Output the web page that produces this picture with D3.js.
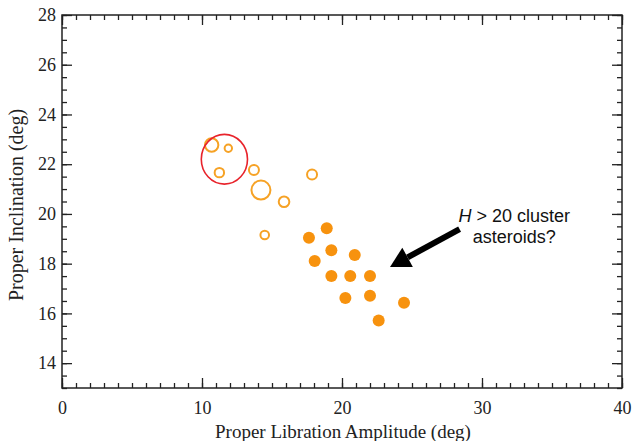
<!DOCTYPE html>
<html>
<head>
<meta charset="utf-8">
<script src="https://cdn.jsdelivr.net/npm/d3@7"></script>
<style>
  body { margin: 0; background: #fff; }
  svg { display: block; }
</style>
</head>
<body>
<div id="chart"></div>
<script>
// open circles: proper libration amplitude, proper inclination, relative size
var openAmp  = [10.69, 11.88, 11.24, 13.71, 14.21, 15.86, 17.86, 14.48];
var openInc  = [22.77, 22.64, 21.66, 21.77, 20.96, 20.49, 21.59, 19.15];
var openSize = [6.7, 3.7, 4.7, 5.0, 9.5, 5.3, 5.0, 4.3];

// filled circles: H > 20 cluster candidates
var fillAmp = [17.64, 18.91, 19.24, 18.05, 20.91, 19.24, 20.59, 22.0, 20.24, 22.0, 24.43, 22.62];
var fillInc = [19.04, 19.42, 18.54, 18.11, 18.35, 17.50, 17.50, 17.50, 16.62, 16.71, 16.43, 15.71];

// red ellipse around the family core: center and half-widths in data units
var ringCenter = [11.6, 22.2];
var ringRadius = [1.65, 1.0];

var xTicks = [0, 10, 20, 30, 40];
var yTicks = [14, 16, 18, 20, 22, 24, 26, 28];

var W = 633, H = 441;
var margin = {top: 15, right: 11, bottom: 53, left: 62};
var width = W - margin.left - margin.right,
    height = H - margin.top - margin.bottom;

var svg = d3.select("#chart").append("svg")
  .attr("width", W)
  .attr("height", H);

var g = svg.append("g")
  .attr("transform", "translate(" + margin.left + "," + margin.top + ")");

var x = d3.scaleLinear().domain([0, 40]).range([0, width]);
var y = d3.scaleLinear().domain([13, 28]).range([height, 0]);
var r = d3.scaleLinear().domain([0, 10]).range([0, 10]);

var serif = "'Liberation Serif', 'Times New Roman', serif";

// axes: ticks pointing inward, on all four sides
function styleAxis(sel) {
  sel.select(".domain").remove();
  sel.selectAll("line").attr("stroke", "#222").attr("stroke-width", 1.3);
  sel.selectAll("text").attr("font-family", serif).attr("font-size", 18).attr("fill", "#222");
}

var xMinor = d3.range(0, 41, 1), yMinor = d3.range(13, 28.01, 0.5);

g.append("g").attr("transform", "translate(0," + height + ")")
  .call(d3.axisBottom(x).tickValues(xMinor).tickSize(-5).tickFormat(""))
  .call(styleAxis);
g.append("g").attr("transform", "translate(0," + height + ")")
  .call(d3.axisBottom(x).tickValues(xTicks).tickSize(-10).tickPadding(13).tickFormat(d3.format("d")))
  .call(styleAxis);
g.append("g")
  .call(d3.axisTop(x).tickValues(xMinor).tickSize(-5).tickFormat(""))
  .call(styleAxis);
g.append("g")
  .call(d3.axisTop(x).tickValues(xTicks).tickSize(-10).tickFormat(""))
  .call(styleAxis);

g.append("g")
  .call(d3.axisLeft(y).tickValues(yMinor).tickSize(-5).tickFormat(""))
  .call(styleAxis);
g.append("g")
  .call(d3.axisLeft(y).tickValues(yTicks).tickSize(-10).tickPadding(6).tickFormat(d3.format("d")))
  .call(styleAxis);
g.append("g").attr("transform", "translate(" + width + ",0)")
  .call(d3.axisRight(y).tickValues(yMinor).tickSize(-5).tickFormat(""))
  .call(styleAxis);
g.append("g").attr("transform", "translate(" + width + ",0)")
  .call(d3.axisRight(y).tickValues(yTicks).tickSize(-10).tickFormat(""))
  .call(styleAxis);

g.append("rect")
  .attr("width", width).attr("height", height)
  .attr("fill", "none").attr("stroke", "#222").attr("stroke-width", 1.5);

// axis titles
svg.append("text")
  .attr("x", margin.left + width / 2 + 1).attr("y", 438)
  .attr("text-anchor", "middle")
  .attr("font-family", serif).attr("font-size", 19).attr("fill", "#222")
  .text("Proper Libration Amplitude (deg)");

svg.append("text")
  .attr("transform", "translate(23,205) rotate(-90)")
  .attr("text-anchor", "middle")
  .attr("font-family", serif).attr("font-size", 20).attr("fill", "#222")
  .text("Proper Inclination (deg)");

// open circles
var openData = openAmp.map((d, i) => ({a: d, inc: openInc[i], s: openSize[i]}));
g.append("g").selectAll("circle")
  .data(openData)
  .join("circle")
    .attr("cx", d => x(d.a))
    .attr("cy", d => y(d.inc))
    .attr("r", d => r(d.s))
    .attr("fill", "none")
    .attr("stroke", "#f6a225")
    .attr("stroke-width", 2);

// red ellipse
g.append("ellipse")
  .attr("cx", x(ringCenter[0]))
  .attr("cy", y(ringCenter[1]))
  .attr("rx", x(ringRadius[0]) - x(0))
  .attr("ry", y(0) - y(ringRadius[1]))
  .attr("fill", "none")
  .attr("stroke", "#e8232b")
  .attr("stroke-width", 1.6);

// filled circles
var fillData = fillAmp.map((d, i) => ({a: d, inc: fillInc[i]}));
g.append("g").selectAll("circle")
  .data(fillData)
  .join("circle")
    .attr("cx", d => x(d.a))
    .attr("cy", d => y(d.inc))
    .attr("r", 6)
    .attr("fill", "#f7920e");

// annotation arrow
var tail = [28.4, 19.39], tip = [23.43, 17.87];
var tx = x(tail[0]), ty = y(tail[1]), px = x(tip[0]), py = y(tip[1]);
var ang = Math.atan2(py - ty, px - tx);
var headLen = 20, headW = 11;
var bx = px - headLen * Math.cos(ang), by = py - headLen * Math.sin(ang);

var arrow = g.append("g");
arrow.append("line")
  .attr("x1", tx).attr("y1", ty).attr("x2", bx).attr("y2", by)
  .attr("stroke", "#000").attr("stroke-width", 6);
arrow.append("polygon")
  .attr("points", [
    [px, py],
    [bx + headW * Math.sin(ang), by - headW * Math.cos(ang)],
    [bx - headW * Math.sin(ang), by + headW * Math.cos(ang)]
  ].map(p => p.join(",")).join(" "))
  .attr("fill", "#000");

var sans = "'Liberation Sans', Arial, Helvetica, sans-serif";
var t1 = g.append("text")
  .attr("x", x(32.3)).attr("y", y(19.69))
  .attr("text-anchor", "middle")
  .attr("font-family", sans).attr("font-size", 18).attr("fill", "#111");
t1.append("tspan").attr("font-style", "italic").text("H");
t1.append("tspan").text(" > 20 cluster");

g.append("text")
  .attr("x", x(32.3)).attr("y", y(18.83))
  .attr("text-anchor", "middle")
  .attr("font-family", sans).attr("font-size", 18).attr("fill", "#111")
  .text("asteroids?");
</script>
</body>
</html>
